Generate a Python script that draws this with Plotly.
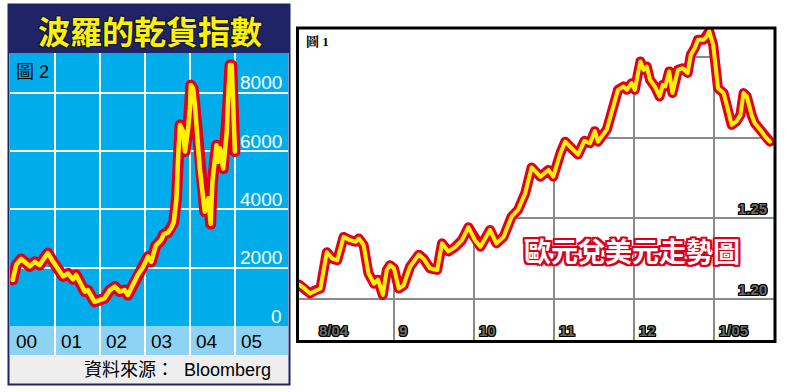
import plotly.graph_objects as go

W, H = 787, 392

# ---------------- Left chart: Baltic Dry Index (圖 2) ----------------
bdi_year = [2000.06, 2000.14, 2000.25, 2000.36, 2000.44, 2000.55, 2000.66, 2000.73, 2000.84, 2000.96,
            2001.07, 2001.18, 2001.29, 2001.40, 2001.47, 2001.58, 2001.66, 2001.73, 2001.81, 2001.88,
            2001.99, 2002.10, 2002.22, 2002.33, 2002.44, 2002.55, 2002.62, 2002.73, 2002.84, 2002.96,
            2003.07, 2003.14, 2003.24, 2003.36, 2003.42, 2003.51, 2003.58, 2003.64, 2003.70, 2003.74,
            2003.78, 2003.85, 2003.89, 2003.96, 2004.00, 2004.02, 2004.07, 2004.11, 2004.15, 2004.18,
            2004.22, 2004.26, 2004.30, 2004.33, 2004.41, 2004.44, 2004.46, 2004.50, 2004.56, 2004.59,
            2004.63, 2004.67, 2004.74, 2004.78, 2004.82, 2004.85, 2004.89, 2004.93, 2004.96, 2005.00]
bdi_value = [1580, 2100, 2300, 2150, 2050, 2200, 2090, 2260, 2500, 2200,
             1950, 1700, 1800, 1600, 1750, 1400, 1180, 1230, 1000, 830,
             890, 950, 1230, 1350, 1180, 1230, 1060, 1400, 1750, 2030,
             2380, 2200, 2750, 2950, 3150, 3200, 3350, 3550, 4350, 5860,
             6890, 6660, 5980, 6780, 7460, 8260, 8150, 7580, 6780, 5860,
             5400, 4830, 4380, 3920, 4380, 3800, 3500, 4950, 5980, 6200,
             5630, 6090, 5400, 5980, 6660, 7800, 8950, 8950, 7580, 5980]
bdi_year_ticks = [2000, 2001, 2002, 2003, 2004, 2005]
bdi_year_labels = ["00", "01", "02", "03", "04", "05"]
bdi_value_ticks = [0, 2000, 4000, 6000, 8000]
bdi_value_labels = ["0", "2000", "4000", "6000", "8000"]

# ---------------- Right chart: EUR/USD (圖 1) ----------------
# x = months since start of Aug 2004 (1 = Sep, 5 = Jan 2005)
eur_month = [-0.19, -0.13, -0.05, 0.02, 0.08, 0.16, 0.23, 0.29, 0.37, 0.45,
             0.52, 0.56, 0.62, 0.68, 0.75, 0.80, 0.86, 0.91, 0.95, 1.00,
             1.06, 1.12, 1.20, 1.31, 1.37, 1.45, 1.54, 1.60, 1.68, 1.76,
             1.85, 1.93, 2.01, 2.08, 2.20, 2.28, 2.37, 2.47, 2.55, 2.64,
             2.72, 2.83, 2.93, 2.99, 3.08, 3.14, 3.24, 3.30, 3.38, 3.45,
             3.51, 3.55, 3.66, 3.74, 3.80, 3.87, 3.91, 3.97, 4.01, 4.08,
             4.12, 4.16, 4.20, 4.26, 4.32, 4.36, 4.39, 4.44, 4.48, 4.55,
             4.61, 4.67, 4.71, 4.76, 4.80, 4.87, 4.91, 4.94, 4.99, 5.05,
             5.12, 5.18, 5.22, 5.28, 5.33, 5.37, 5.41, 5.47, 5.51, 5.58,
             5.64, 5.70]
eur_value = [1.209, 1.207, 1.2035, 1.2055, 1.2065, 1.229, 1.225, 1.224, 1.2385, 1.2365,
             1.2355, 1.2375, 1.2335, 1.216, 1.2095, 1.212, 1.2025, 1.218, 1.221, 1.219,
             1.2065, 1.2085, 1.220, 1.2275, 1.225, 1.219, 1.218, 1.2345, 1.2295, 1.232,
             1.2365, 1.2445, 1.2366, 1.2324, 1.2428, 1.2345, 1.2386, 1.251, 1.2552, 1.2655,
             1.2815, 1.2758, 1.280, 1.2758, 1.2903, 1.2975, 1.2924, 1.2895, 1.298, 1.2965,
             1.304, 1.2975, 1.305, 1.320, 1.3296, 1.3317, 1.3296, 1.3337, 1.3296, 1.3472,
             1.342, 1.344, 1.3358, 1.3317, 1.3255, 1.3327, 1.3317, 1.341, 1.3276, 1.342,
             1.343, 1.340, 1.3513, 1.3555, 1.3607, 1.3607, 1.3627, 1.3658, 1.3575, 1.3306,
             1.3276, 1.3162, 1.3079, 1.310, 1.3141, 1.3276, 1.3255, 1.3141, 1.3089, 1.3048,
             1.3006, 1.2975]
eur_month_ticks = [0, 1, 2, 3, 4, 5]
eur_month_labels = ["8/04", "9", "10", "11", "12", "1/05"]
eur_value_ticks = [1.20, 1.25, 1.30, 1.35]
eur_value_labels = ["1.20", "1.25", "", ""]

# ---------------- styling ----------------
NAVY = "#1f2466"
BLUE = "#00adea"
BAND = "#8fd3f4"
STRIP = "#eeeeee"
RED = "#e0001e"
YELLOW = "#fff200"
TITLE_YELLOW = "#fff200"
GRID_R = "#8a8a8a"

L_XR = [2000.0, 2006.18]
L_YR = [-994, 9360]
R_XR = [-0.2, 5.75]
R_YR = [1.174, 1.3673]

SANS = "Liberation Sans, Arial, Noto Sans CJK TC, sans-serif"
CJK = "Noto Sans CJK TC, Noto Sans CJK SC, sans-serif"


def px(x):
    return x / W


def py(y):
    return 1 - y / H


def outline(c, d=1):
    offs = [(-d, -d), (d, -d), (-d, d), (d, d), (0, d), (0, -d), (d, 0), (-d, 0)]
    return ", ".join(f"{a}px {b}px 0 {c}" for a, b in offs)


fig = go.Figure()

# left chart line (red outline + yellow core)
fig.add_trace(go.Scatter(x=bdi_year, y=bdi_value, xaxis="x", yaxis="y", mode="lines",
                         line=dict(color=RED, width=11), hoverinfo="skip"))
fig.add_trace(go.Scatter(x=bdi_year, y=bdi_value, xaxis="x", yaxis="y", mode="lines",
                         line=dict(color=YELLOW, width=4.5), hoverinfo="skip"))

# right chart: white mask above curve so the grid only shows below it
mask_x = [R_XR[0]] + eur_month + [R_XR[1]]
mask_y = [eur_value[0]] + eur_value + [eur_value[-1]]
fig.add_trace(go.Scatter(x=mask_x, y=mask_y, xaxis="x2", yaxis="y2", mode="lines",
                         line=dict(color="rgba(0,0,0,0)", width=0), hoverinfo="skip"))
fig.add_trace(go.Scatter(x=mask_x, y=[R_YR[1]] * len(mask_x), xaxis="x2", yaxis="y2",
                         mode="lines", fill="tonexty", fillcolor="white",
                         line=dict(color="rgba(0,0,0,0)", width=0), hoverinfo="skip"))
fig.add_trace(go.Scatter(x=eur_month, y=eur_value, xaxis="x2", yaxis="y2", mode="lines",
                         line=dict(color=RED, width=10), hoverinfo="skip"))
fig.add_trace(go.Scatter(x=eur_month, y=eur_value, xaxis="x2", yaxis="y2", mode="lines",
                         line=dict(color=YELLOW, width=4), hoverinfo="skip"))

shapes = [
    # left header
    dict(type="rect", xref="paper", yref="paper", x0=px(8), x1=px(290), y0=py(53), y1=py(4),
         fillcolor=NAVY, line=dict(width=0), layer="below"),
    # source strip
    dict(type="rect", xref="paper", yref="paper", x0=px(9), x1=px(289), y0=py(384), y1=py(355),
         fillcolor=STRIP, line=dict(width=0), layer="below"),
    # blue plot background
    dict(type="rect", xref="x domain", yref="y", x0=0, x1=1, y0=0, y1=L_YR[1],
         fillcolor=BLUE, line=dict(width=0), layer="below"),
    # light-blue year band
    dict(type="rect", xref="x domain", yref="y", x0=0, x1=1, y0=L_YR[0], y1=0,
         fillcolor=BAND, line=dict(width=0), layer="below"),
    # left outer frame
    dict(type="rect", xref="paper", yref="paper", x0=px(8.5), x1=px(289.5), y0=py(384.5), y1=py(4.5),
         line=dict(color=NAVY, width=2), layer="above"),
    # right frame
    dict(type="rect", xref="paper", yref="paper", x0=px(297.5), x1=px(775), y0=py(341.5), y1=py(28),
         line=dict(color="black", width=3), layer="above"),
]

ann = []
# title
ann.append(dict(text="<b>波羅的乾貨指數</b>", xref="paper", yref="paper", x=px(150), y=py(30),
                xanchor="center", yanchor="middle", showarrow=False,
                font=dict(family=CJK, size=32, color=TITLE_YELLOW, shadow=outline("#10153d", 1))))
ann.append(dict(text="圖 2", xref="paper", yref="paper", x=px(14), y=py(72),
                xanchor="left", yanchor="middle", showarrow=False,
                font=dict(family=SANS, size=18, color="black")))
ann.append(dict(text="資料來源：  Bloomberg", xref="paper", yref="paper", x=px(273), y=py(370),
                xanchor="right", yanchor="middle", showarrow=False,
                font=dict(family=SANS, size=18, color="black")))
for v, t in zip(bdi_value_ticks, bdi_value_labels):
    ann.append(dict(text=t, xref="paper", yref="y", x=px(284), y=v, yshift=10,
                    xanchor="right", yanchor="middle", showarrow=False,
                    font=dict(family=SANS, size=19, color="white")))
for v, t in zip(bdi_year_ticks, bdi_year_labels):
    ann.append(dict(text=t, xref="x", yref="paper", x=v, xshift=4, y=py(341),
                    xanchor="left", yanchor="middle", showarrow=False,
                    font=dict(family=SANS, size=19, color="black")))

# right chart texts
ann.append(dict(text="<b>圖 1</b>", xref="paper", yref="paper", x=px(304), y=py(42),
                xanchor="left", yanchor="middle", showarrow=False,
                font=dict(family="Liberation Serif, Noto Serif CJK TC, Noto Sans CJK TC, serif",
                          size=13, color="black")))
ann.append(dict(text="<b>歐元兌美元走勢圖</b>", xref="paper", yref="paper", x=px(632), y=py(251),
                xanchor="center", yanchor="middle", showarrow=False,
                font=dict(family=CJK, size=27, color="white", shadow=outline("#d8001c", 2))))
for v, t in zip(eur_month_ticks, eur_month_labels):
    xv = max(v, R_XR[0])
    ann.append(dict(text=f"<b>{t}</b>", xref="x2", yref="paper", x=xv, xshift=(7 if v < R_XR[0] else 3),
                    y=py(330), xanchor="left", yanchor="middle", showarrow=False,
                    font=dict(family=SANS, size=15, color="#6a6a6a", shadow=outline("#000", 1))))
for v, t in zip(eur_value_ticks, eur_value_labels):
    if t:
        ann.append(dict(text=f"<b>{t}</b>", xref="paper", yref="y2", x=px(769), y=v, yshift=10,
                        xanchor="right", yanchor="middle", showarrow=False,
                        font=dict(family=SANS, size=15, color="#6a6a6a", shadow=outline("#000", 1))))

fig.update_layout(
    width=W, height=H, margin=dict(l=0, r=0, t=0, b=0),
    paper_bgcolor="white", plot_bgcolor="rgba(0,0,0,0)", showlegend=False,
    shapes=shapes, annotations=ann,
    xaxis=dict(domain=[px(10), px(288)], range=L_XR, tickvals=bdi_year_ticks[1:],
               showgrid=True, gridcolor="white", gridwidth=2, zeroline=False,
               showticklabels=False, ticks="", showline=False, fixedrange=True),
    yaxis=dict(domain=[py(355), py(53)], range=L_YR, tickvals=bdi_value_ticks[1:],
               showgrid=True, gridcolor="white", gridwidth=2, zeroline=False,
               showticklabels=False, ticks="", showline=False, fixedrange=True),
    xaxis2=dict(domain=[px(298), px(774)], range=R_XR, tickvals=eur_month_ticks[1:], anchor="y2",
                showgrid=True, gridcolor=GRID_R, gridwidth=1.5, zeroline=False,
                showticklabels=False, ticks="", showline=False, fixedrange=True),
    yaxis2=dict(domain=[py(341), py(29)], range=R_YR, tickvals=eur_value_ticks, anchor="x2",
                showgrid=True, gridcolor=GRID_R, gridwidth=1.5, zeroline=False,
                showticklabels=False, ticks="", showline=False, fixedrange=True),
)

post = (
    "document.body.style.margin='0px';document.body.style.overflow='hidden';"
    "document.querySelectorAll('.scatterlayer path.js-line').forEach(function(p){"
    "p.style.strokeLinejoin='round';p.style.strokeLinecap='round';});"
)
fig.write_html("out.html", config={"displayModeBar": False}, post_script=post)
